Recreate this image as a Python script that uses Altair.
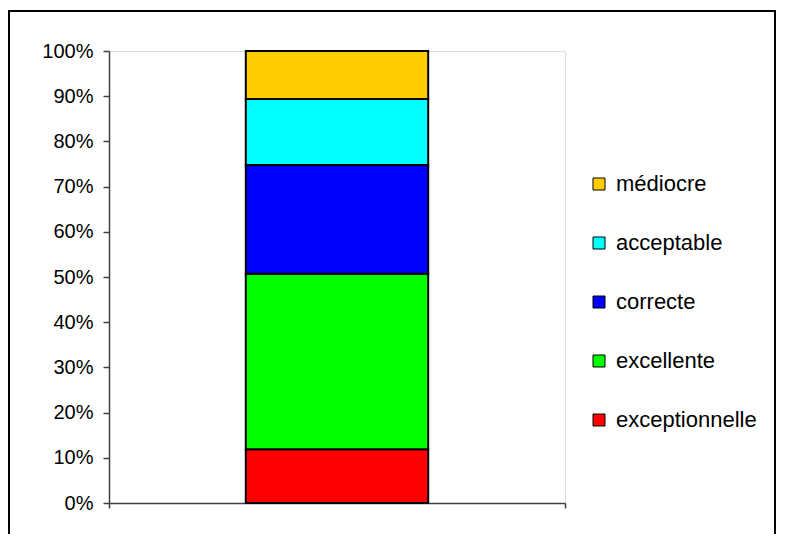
import altair as alt
import pandas as pd

categories = ["exceptionnelle", "excellente", "correcte", "acceptable", "médiocre"]
values = [11.9, 38.8, 24.1, 14.6, 10.6]
colors = ["#FF0000", "#00FF00", "#0000FF", "#00FFFF", "#FFCC00"]
stack_rank = [0, 1, 2, 3, 4]
y_ticks = [0, 0.1, 0.2, 0.3, 0.4, 0.5, 0.6, 0.7, 0.8, 0.9, 1.0]

df = pd.DataFrame({
    "group": ["A"] * len(categories),
    "category": categories,
    "value": values,
    "rank": stack_rank,
})

legend_order = list(reversed(categories))
legend_colors = list(reversed(colors))

FONT = "Liberation Sans"

bars = alt.Chart(df).mark_bar(
    width=alt.RelativeBandSize(0.4), stroke="black", strokeWidth=2
).encode(
    x=alt.X("group:N", title=None,
            scale=alt.Scale(paddingInner=0, paddingOuter=0),
            axis=alt.Axis(labels=False, tickBand="extent", tickSize=5,
                          tickColor="#404040", tickWidth=1.5,
                          domainColor="#404040", domainWidth=1.5)),
    y=alt.Y("value:Q", stack="normalize", title=None,
            scale=alt.Scale(domain=[0, 1], nice=False),
            axis=alt.Axis(values=y_ticks, format=".0%", grid=False,
                          tickSize=6, tickColor="#404040", tickWidth=1.5,
                          domainColor="#404040", domainWidth=1.5,
                          labelFont=FONT, labelFontSize=20, labelColor="black",
                          labelPadding=10)),
    color=alt.Color("category:N",
                    scale=alt.Scale(domain=legend_order, range=legend_colors),
                    legend=alt.Legend(title=None, orient="none", legendX=479, legendY=122,
                                      padding=0, rowPadding=37, labelOffset=6,
                                      symbolType="square", symbolSize=144,
                                      symbolStrokeColor="black", symbolStrokeWidth=1,
                                      labelFont=FONT, labelFontSize=22, labelColor="black")),
    order=alt.Order("rank:Q", sort="ascending"),
)

frame = alt.Chart(alt.Data(values=[{}])).mark_rect(
    fill=None, stroke="black", strokeWidth=2, clip=False
).encode(
    x=alt.value(-100), x2=alt.value(666),
    y=alt.value(-40), y2=alt.value(560),
)

chart = alt.layer(frame, bars).properties(
    width=456, height=452,
    autosize=alt.AutoSizeParams(type="none"),
    padding={"left": 101, "top": 43, "right": 212, "bottom": 31},
).configure_view(stroke="#A0A0A0", strokeWidth=1.5).configure(background="white")

chart.save("out.html", embed_options={"renderer": "svg", "actions": False})
